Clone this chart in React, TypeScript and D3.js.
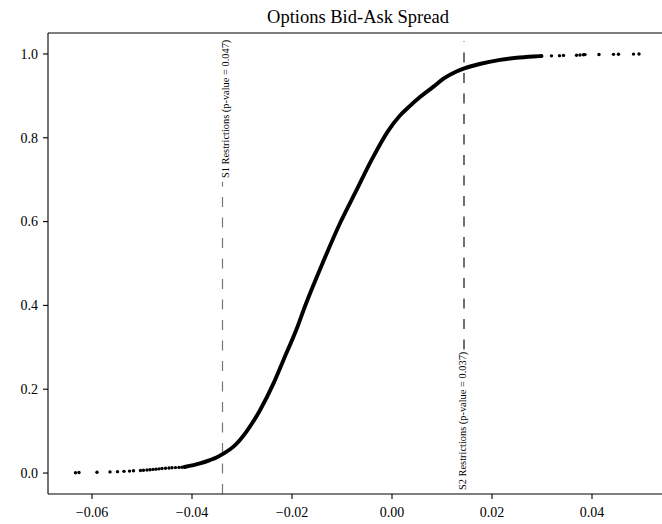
import React from "react";
import * as d3 from "d3";

const title = "Options Bid-Ask Spread";
const xTicks = [-0.06, -0.04, -0.02, 0.0, 0.02, 0.04];
const yTicks = [0.0, 0.2, 0.4, 0.6, 0.8, 1.0];

// sparse lower tail points (x, cumulative share)
const lowerTail: [number, number][] = [
  [-0.0633, 0.0007], [-0.0626, 0.0013], [-0.059, 0.002], [-0.0564, 0.0027],
  [-0.0549, 0.0033], [-0.0536, 0.004], [-0.0525, 0.0047], [-0.0517, 0.0053],
  [-0.0503, 0.006], [-0.0497, 0.0067], [-0.049, 0.0073], [-0.0484, 0.008],
  [-0.0478, 0.0087], [-0.0472, 0.0093], [-0.0466, 0.01], [-0.046, 0.0107],
  [-0.0453, 0.0113], [-0.0446, 0.012], [-0.044, 0.0125], [-0.0433, 0.013],
  [-0.0426, 0.0135], [-0.042, 0.014],
];

// dense middle of the empirical CDF
const curve: [number, number][] = [
  [-0.0415, 0.0145], [-0.0384, 0.023], [-0.0364, 0.031], [-0.0351, 0.037],
  [-0.0339, 0.045], [-0.0317, 0.063], [-0.0291, 0.099], [-0.0264, 0.15],
  [-0.0237, 0.214], [-0.0217, 0.27], [-0.0191, 0.343], [-0.0174, 0.398],
  [-0.0137, 0.506], [-0.0104, 0.596], [-0.0071, 0.675], [-0.004, 0.749],
  [-0.0008, 0.816], [0.0016, 0.853], [0.0036, 0.876], [0.0056, 0.897],
  [0.0083, 0.922], [0.0103, 0.941], [0.0129, 0.958], [0.0146, 0.966],
  [0.0175, 0.976], [0.0216, 0.986], [0.0249, 0.991], [0.0283, 0.994],
  [0.0299, 0.995],
];

// sparse upper tail points
const upperTail: [number, number][] = [
  [0.0319, 0.9955], [0.0335, 0.996], [0.0343, 0.9965], [0.0369, 0.997],
  [0.0376, 0.9975], [0.0383, 0.998], [0.0386, 0.9985], [0.0414, 0.9988],
  [0.0443, 0.9991], [0.0453, 0.9994], [0.0483, 0.9997], [0.0494, 1.0],
];

const restrictionNames = ["S1 Restrictions (p-value = 0.047)", "S2 Restrictions (p-value = 0.037)"];
const restrictionX = [-0.0339, 0.0144];
const restrictionY0 = [-0.05, 0.295];
const restrictionY1 = [0.695, 1.03];

const W = 662;
const H = 524;
const left = 48, right = 668, top = 33, bottom = 494;
const FONT = "'Liberation Serif', 'Times New Roman', serif";

export default function App() {
  const x = d3.scaleLinear().domain([-0.0688, 0.0552]).range([left, right]);
  const y = d3.scaleLinear().domain([-0.05, 1.05]).range([bottom, top]);
  const fx = d3.format(".2f");
  const fy = d3.format(".1f");
  const line = d3
    .line<[number, number]>()
    .x((d) => x(d[0]))
    .y((d) => y(d[1]))
    .curve(d3.curveMonotoneX);

  return (
    <svg
      width={W}
      height={H}
      style={{ position: "absolute", left: 0, top: 0, background: "#fff" }}
      fontFamily={FONT}
    >
      <rect x={0} y={0} width={W} height={H} fill="#fff" />
      <text x={(left + right) / 2} y={23} textAnchor="middle" fontSize={18.5} fill="#000">
        {title}
      </text>

      {/* restriction lines */}
      {restrictionX.map((v, i) => (
        <line
          key={"r" + i}
          x1={x(v)}
          x2={x(v)}
          y1={y(restrictionY0[i])}
          y2={y(restrictionY1[i])}
          stroke={i === 0 ? "#777" : "#111"}
          strokeWidth={1.2}
          strokeDasharray="10,10.5"
        />
      ))}
      {restrictionX.map((v, i) => {
        const tx = x(v) + (i === 0 ? 3 : -1.5);
        const ty = i === 0 ? 178 : 490;
        return (
          <text
            key={"t" + i}
            transform={`translate(${tx},${ty}) rotate(-90)`}
            fontSize={10.4}
            dominantBaseline="central"
            fill="#000"
          >
            {restrictionNames[i]}
          </text>
        );
      })}

      {/* curve */}
      <path d={line(curve) || ""} fill="none" stroke="#000" strokeWidth={3.9} strokeLinecap="round" strokeLinejoin="round" />
      {lowerTail.concat(upperTail).map((d, i) => (
        <circle key={"p" + i} cx={x(d[0])} cy={y(d[1])} r={1.7} fill="#000" />
      ))}

      {/* spines */}
      <g stroke="#000" strokeWidth={1.1} fill="none">
        <line x1={left} x2={left} y1={top} y2={bottom} />
        <line x1={left} x2={right} y1={bottom} y2={bottom} />
        <line x1={left} x2={right} y1={top} y2={top} />
        <line x1={right} x2={right} y1={top} y2={bottom} />
      </g>

      {/* x ticks */}
      {xTicks.map((t) => (
        <g key={"x" + t}>
          <line x1={x(t)} x2={x(t)} y1={bottom} y2={bottom + 5} stroke="#000" strokeWidth={1.1} />
          <text x={x(t)} y={517} textAnchor="middle" fontSize={14} fill="#000">
            {fx(t)}
          </text>
        </g>
      ))}
      {/* y ticks */}
      {yTicks.map((t) => (
        <g key={"y" + t}>
          <line x1={left - 5} x2={left} y1={y(t)} y2={y(t)} stroke="#000" strokeWidth={1.1} />
          <text x={38} y={y(t)} dy="0.35em" textAnchor="end" fontSize={14} fill="#000">
            {fy(t)}
          </text>
        </g>
      ))}
    </svg>
  );
}
